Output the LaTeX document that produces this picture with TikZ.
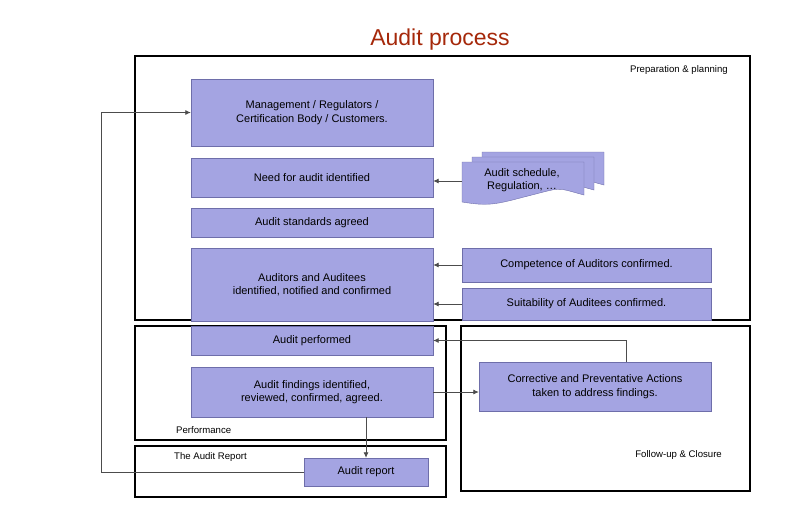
\documentclass[tikz,border=0pt]{standalone}
\usepackage{fontspec}
\setmainfont{Liberation Sans}
\usetikzlibrary{arrows.meta}

\definecolor{boxfill}{RGB}{164,164,226}
\definecolor{boxline}{RGB}{110,110,170}
\definecolor{titlered}{RGB}{165,40,10}

\tikzset{
  frame/.style={draw=black,line width=1.6pt},
  box/.style={draw=boxline,fill=boxfill,align=center,inner sep=2pt,
    font=\fontsize{11}{13.5}\selectfont},
  lbl/.style={font=\fontsize{9.6}{11}\selectfont,inner sep=0pt},
  conn/.style={draw=black!70,line width=0.8pt,-{Latex[length=5.5pt,width=5pt]}},
  doc/.style={draw=boxline,fill=boxfill}
}

\newcommand{\docpage}[2]{%
  \path[doc] (#1,#2) -- ++(122,0) -- ++(0,33)
    .. controls ++(-30,-8) and ++(40,-10) .. ++(-60,2)
    .. controls ++(-30,8) and ++(25,4) .. ++(-62,5) -- cycle;}

\begin{document}
\begin{tikzpicture}[x=1pt,y=-1pt]
  \useasboundingbox (0,0) rectangle (792,512);

  % title
  \node[font=\fontsize{23}{26}\selectfont,text=titlered] (title) at (440,40) {Audit process};

  % frames
  \draw[frame] (135,56) rectangle (750,320);
  \draw[frame] (135,326) rectangle (446,440);
  \draw[frame] (135,446) rectangle (446,497);
  \draw[frame] (461,326) rectangle (750,491);
  \node[lbl,anchor=east] (prep) at (728,70) {Preparation \& planning};
  \node[lbl,anchor=west] (perf) at (176,430) {Performance};
  \node[lbl,anchor=west] (rep) at (174,457) {The Audit Report};
  \node[lbl,anchor=east] (fup) at (722,455) {Follow-up \& Closure};

  % planning boxes
  \node[box,minimum width=242,minimum height=67] (mgmt) at (312,112.5)
    {Management / Regulators /\\Certification Body / Customers.};
  \node[box,minimum width=242,minimum height=39] (need) at (312,177.5)
    {Need for audit identified};
  \node[box,minimum width=242,minimum height=29] (std) at (312,222.5)
    {Audit standards agreed};
  \node[box,minimum width=242,minimum height=73] (who) at (312,284.5)
    {Auditors and Auditees\\identified, notified and confirmed};
  \node[box,minimum width=249,minimum height=34] (comp) at (586.5,265)
    {Competence of Auditors confirmed.};
  \node[box,minimum width=249,minimum height=32] (suit) at (586.5,304)
    {Suitability of Auditees confirmed.};

  % document stack
  \docpage{482}{152}
  \docpage{472}{157}
  \docpage{462}{162}
  \node[align=center,font=\fontsize{11}{13.5}\selectfont] (sched) at (522,180)
    {Audit schedule,\\Regulation, \dots};
  \coordinate (schedin) at (462,181);

  % performance boxes
  \node[box,minimum width=242,minimum height=29] (perfd) at (312,340.5)
    {Audit performed};
  \node[box,minimum width=242,minimum height=50] (find) at (312,392)
    {Audit findings identified,\\reviewed, confirmed, agreed.};
  \node[box,minimum width=124,minimum height=28] (arep) at (366,472)
    {Audit report};
  \node[box,minimum width=232,minimum height=49] (corr) at (595,386.5)
    {Corrective and Preventative Actions\\taken to address findings.};

  \coordinate (back) at (101,300);
  \coordinate (up) at (626,0);

  % connectors
  \draw[conn] (schedin) -- (schedin -| need.east);
  \draw[conn] (comp.west) -- (comp.west -| who.east);
  \draw[conn] (suit.west) -- (suit.west -| who.east);
  \draw[conn] (find.east) -- (find.east -| corr.west);
  \draw[conn] (corr.north -| up) |- (perfd.east);
  \draw[conn] (find.south -| arep.north) -- (arep.north);
  \draw[conn] (arep.west) -- (arep.west -| back) |- (mgmt.west);
\end{tikzpicture}
\end{document}
